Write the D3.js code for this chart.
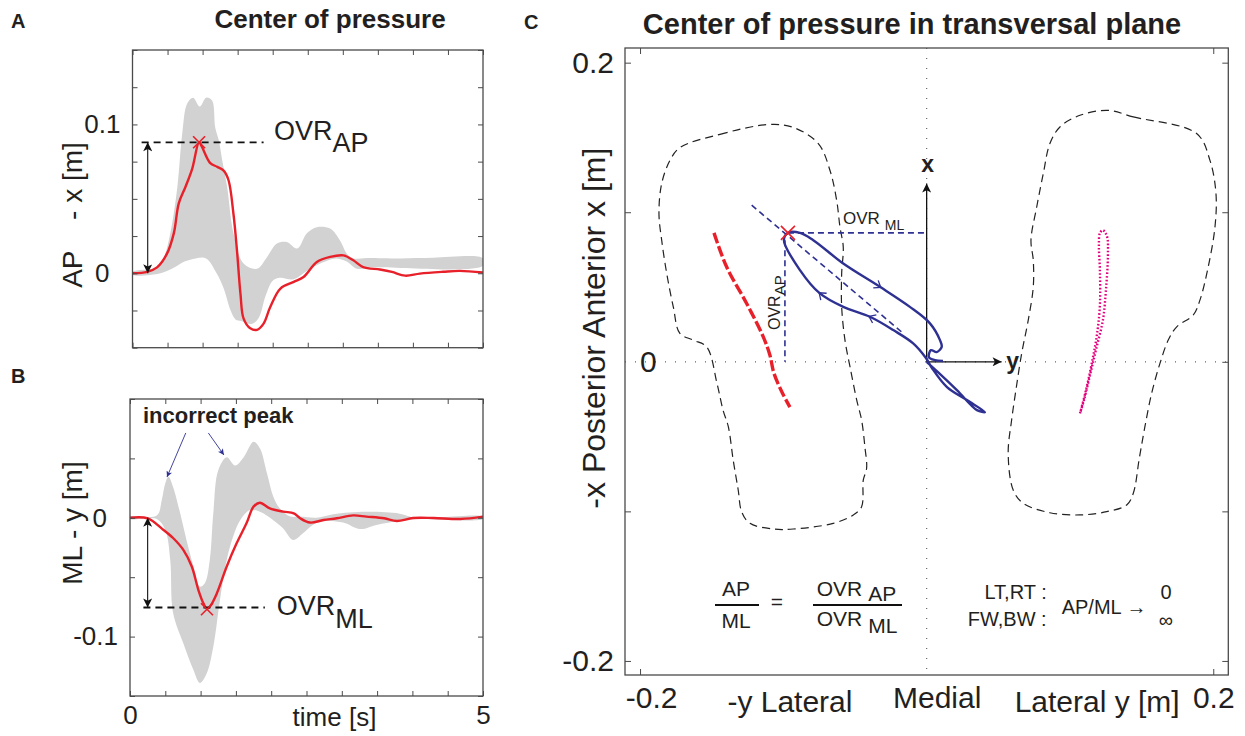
<!DOCTYPE html>
<html><head><meta charset="utf-8">
<script src="https://cdn.jsdelivr.net/npm/d3@7"></script>
<style>
html,body{margin:0;padding:0;background:#fff;}
svg{display:block;font-family:"Liberation Sans",Arial,Helvetica,sans-serif;}
</style></head><body>
<svg id="fig" width="1245" height="736"></svg>
<script>
// ---------------- DATA ----------------
const timeTicks = [0,0.5,1,1.5,2,2.5,3,3.5,4,4.5,5];
const timeLabels = [0,5];
const yTicksA = [-0.05,-0.025,0,0.025,0.05,0.075,0.1,0.125,0.15];
const yLabelsA = [0,0.1];
const yTicksB = [-0.15,-0.1,-0.05,0,0.05,0.1];
const yLabelsB = [0,-0.1];

// Panel A: AP centre of pressure (red) and gray envelope
const tRedA = [0,0.21,0.35,0.49,0.59,0.66,0.755,0.85,0.95,0.99,1.11,1.21,1.30,1.37,1.44,1.49,1.54,1.585,1.68,1.775,1.87,1.965,2.11,2.30,2.44,2.63,2.82,3.01,3.15,3.29,3.53,3.70,3.89,4.10,4.43,4.67,5.0];
const redA  = [0,0.001,0.004,0.013,0.027,0.047,0.058,0.070,0.088,0.085,0.074,0.0715,0.069,0.0625,0.040,0.0155,-0.0137,-0.0305,-0.037,-0.038,-0.0338,-0.0227,-0.0103,-0.0058,-0.0025,0.0076,0.011,0.012,0.0087,0.0042,0.0025,0.0009,-0.0016,-0.0002,0.001,0.0016,0.0005];
const tUpA = [0,0.35,0.45,0.54,0.64,0.71,0.78,0.865,0.96,1.05,1.135,1.18,1.23,1.28,1.35,1.44,1.585,1.775,1.92,2.06,2.20,2.35,2.49,2.63,2.82,2.96,3.06,3.15,3.34,3.82,4.29,5.0];
const upA  = [0.001,0.004,0.011,0.027,0.058,0.094,0.114,0.118,0.112,0.118,0.116,0.098,0.0895,0.076,0.058,0.027,0.0065,0.003,0.011,0.020,0.021,0.0166,0.027,0.031,0.030,0.022,0.013,0.010,0.0103,0.010,0.0105,0.010];
const tLoA = [0,0.4,0.6,0.75,0.9,1.05,1.2,1.3,1.4,1.47,1.55,1.7,1.8,1.9,2.0,2.1,2.3,2.5,2.7,2.9,3.05,3.2,3.4,5.0];
const loA  = [-0.001,0.0,0.004,0.008,0.01,0.01,0.0,-0.01,-0.025,-0.031,-0.032,-0.034,-0.03,-0.015,-0.005,-0.003,-0.004,0.002,0.007,0.01,0.008,0.003,0.004,0.005];

// Panel B: ML centre of pressure (red) and gray envelope
const tRedB = [0,0.25,0.47,0.61,0.755,0.875,0.97,1.04,1.09,1.14,1.23,1.37,1.51,1.65,1.75,1.84,1.98,2.17,2.32,2.41,2.55,2.74,2.93,3.16,3.35,3.6,3.78,4.01,4.3,4.68,5.0];
const redB  = [0,-0.0005,-0.010,-0.017,-0.027,-0.041,-0.061,-0.072,-0.0765,-0.074,-0.0636,-0.041,-0.0215,-0.0046,0.0094,0.0127,0.008,0.0052,0.0038,-0.0004,-0.004,-0.0019,-0.0004,0.002,0.001,-0.0004,-0.0027,-0.0002,-0.0002,-0.001,0.001];
const tUpB = [0,0.38,0.45,0.5,0.545,0.61,0.71,0.80,0.90,0.99,1.06,1.13,1.18,1.25,1.37,1.49,1.61,1.75,1.84,1.94,2.03,2.12,2.27,2.41,2.64,2.88,3.35,3.82,4.05,5.0];
const upB  = [0.001,0.002,0.015,0.029,0.0346,0.026,0.004,-0.0187,-0.041,-0.058,-0.055,-0.0355,0.0038,0.040,0.051,0.044,0.051,0.064,0.0585,0.0375,0.0178,0.008,0.001,0.001,0.0,0.003,0.005,0.0035,0.0,0.001];
const tLoB = [0,0.378,0.5,0.57,0.61,0.755,0.897,0.99,1.086,1.18,1.275,1.37,1.46,1.56,1.70,1.84,2.03,2.17,2.31,2.45,2.59,2.74,3.02,3.26,3.49,3.82,4.05,5.0];
const loB  = [-0.001,-0.001,-0.0103,-0.0355,-0.080,-0.1057,-0.128,-0.139,-0.131,-0.1085,-0.069,-0.0355,-0.016,-0.002,0.0066,0.005,-0.002,-0.009,-0.0187,-0.013,-0.006,-0.003,-0.004,-0.0095,-0.006,-0.0025,-0.001,-0.001];

// Overshoot values
const ovrAP = {t:0.95, v:0.088};
const ovrML = {t:1.09, v:-0.077};

// Panel C: [ML (y), AP (x)] in metres
const leftFoot = [[-0.1722,0.1432],[-0.1442,0.1521],[-0.1105,0.1586],[-0.0933,0.1568],[-0.0756,0.1459],[-0.0675,0.1281],[-0.0628,0.1080],[-0.0605,0.0902],[-0.0582,0.0768],[-0.0593,0.0591],[-0.0593,0.0367],[-0.0570,0.0145],[-0.0535,-0.0033],[-0.0488,-0.0256],[-0.0454,-0.0389],[-0.0431,-0.0568],[-0.0419,-0.0712],[-0.0442,-0.0790],[-0.0454,-0.0969],[-0.0512,-0.1024],[-0.0652,-0.1080],[-0.0931,-0.1118],[-0.1070,-0.1118],[-0.1233,-0.1080],[-0.1291,-0.1002],[-0.1315,-0.0857],[-0.1350,-0.0657],[-0.1384,-0.0434],[-0.1421,-0.0323],[-0.1463,-0.0144],[-0.1535,0.0100],[-0.1629,0.0145],[-0.1722,0.0190],[-0.1768,0.0367],[-0.1814,0.0591],[-0.1849,0.0813],[-0.1868,0.0991],[-0.1849,0.1192],[-0.1791,0.1347]];
const rightFoot = [[0.1267,0.1681],[0.1442,0.1637],[0.1884,0.1526],[0.1977,0.1347],[0.2019,0.1125],[0.2012,0.0902],[0.1965,0.0635],[0.1907,0.0412],[0.1860,0.0312],[0.1745,0.0234],[0.1686,0.0145],[0.1628,-0.0011],[0.1570,-0.0211],[0.1523,-0.0434],[0.1484,-0.0645],[0.1442,-0.0879],[0.1396,-0.0957],[0.1256,-0.1002],[0.1070,-0.1024],[0.0860,-0.1009],[0.0674,-0.0946],[0.0604,-0.0857],[0.0569,-0.0612],[0.0593,-0.0389],[0.0623,-0.0189],[0.0663,0.0056],[0.0709,0.0279],[0.0744,0.0501],[0.0744,0.0679],[0.0728,0.0813],[0.0768,0.1035],[0.0814,0.1259],[0.0860,0.1459],[0.0930,0.1570],[0.1070,0.1648]];
const redTraj = [[-0.1484,0.0862],[-0.1396,0.0635],[-0.1256,0.0390],[-0.1140,0.0167],[-0.1094,0.0045],[-0.1066,-0.0075],[-0.1010,-0.0202],[-0.0954,-0.0303]];
const magentaTraj = [[0.1070,-0.0345],[0.1112,-0.0189],[0.1154,-0.0002],[0.1188,0.0178],[0.1209,0.0379],[0.1209,0.0613],[0.1202,0.0780],[0.1209,0.0860],[0.1230,0.0880],[0.1258,0.0840],[0.1265,0.0713],[0.1251,0.0479],[0.1230,0.0279],[0.1181,0.0078],[0.1140,-0.0089],[0.1098,-0.0256],[0.1070,-0.0345]];
const blueTraj = [[0,0],[0.0079,-0.0069],[0.0211,-0.0189],[0.0351,-0.0323],[0.0407,-0.0336],[0.0281,-0.0256],[0.0142,-0.0169],[0.0037,-0.0042],[-0.0005,0.0025],[-0.0094,0.0123],[-0.0233,0.0212],[-0.0396,0.0301],[-0.0582,0.0367],[-0.0745,0.0457],[-0.0884,0.0613],[-0.0996,0.0813],[-0.0968,0.0862],[-0.0884,0.0862],[-0.0791,0.0813],[-0.0582,0.0657],[-0.0326,0.0501],[-0.0117,0.0367],[0.0023,0.0257],[0.0093,0.0145],[0.0105,0.0100],[0.0070,0.0065],[0.0030,0.0078],[0.0016,0.0031],[0.0058,0.0011],[0.0114,0.0005]];
const blueArrowIdx = [11,13,20];
const peakC = [-0.0968,0.0862];
const diagC = [[-0.1221,0.1047],[-0.0163,0.0190]];
const yTicksC = [-0.2,-0.1,0,0.1,0.2];
const xTicksC = [-0.2,0,0.2];

// ---------------- STYLE ----------------
const TXT="#231f20", BOX="#4a4a4a", GRAY="#d2d2d2", RED="#e8202a", NAVY="#2e3192", MAG="#e6007e";
const fmt1 = d => d3.format(".1f")(d).replace("\u2212","-");
const svg = d3.select("#fig");
const defs = svg.append("defs");
function marker(id, color, w, h){
  defs.append("marker").attr("id",id).attr("viewBox","0 0 10 10").attr("refX",10).attr("refY",5)
    .attr("markerWidth",w).attr("markerHeight",h).attr("markerUnits","userSpaceOnUse")
    .attr("orient","auto-start-reverse")
    .append("path").attr("d","M0,0 L10,5 L0,10 L2.5,5 Z").attr("fill",color);
}
marker("ahBlack","#111",10,9);
marker("ahNavy",NAVY,7,6);
marker("ahAxis","#111",12,9);

function styleAxis(g, fs){
  g.attr("font-family",null).attr("font-size",fs);
  g.select(".domain").remove();
  g.selectAll(".tick line").attr("stroke",BOX).attr("stroke-width",1);
  g.selectAll(".tick text").attr("fill",TXT);
  return g;
}
const near = (arr,d)=>arr.some(v=>Math.abs(v-d)<1e-9);
const xMark = (g,x,y,s,color,w)=>g.append("path")
  .attr("d",`M${x-s},${y-s}L${x+s},${y+s}M${x-s},${y+s}L${x+s},${y-s}`)
  .attr("stroke",color).attr("stroke-width",w).attr("fill","none");

function bandPath(x,y,tU,u,tL,l){
  const pts = tU.map((t,i)=>[x(t),y(u[i])]).concat(tL.map((t,i)=>[x(t),y(l[i])]).reverse());
  return d3.line().curve(d3.curveCatmullRomClosed.alpha(0.5))(pts);
}

function timePanel(cfg){
  const {box, yDom, yTicks, yLabels, tU,u,tL,l, tR,r, showX} = cfg;
  const x = d3.scaleLinear().domain([0,5]).range([box.l,box.r]);
  const y = d3.scaleLinear().domain(yDom).range([box.b,box.t]);
  const g = svg.append("g");
  const cid = "clip"+cfg.id;
  defs.append("clipPath").attr("id",cid).append("rect")
    .attr("x",box.l).attr("y",box.t).attr("width",box.r-box.l).attr("height",box.b-box.t);
  const inner = g.append("g").attr("clip-path",`url(#${cid})`);
  inner.append("path").attr("d",bandPath(x,y,tU,u,tL,l)).attr("fill",GRAY).attr("stroke","none");
  inner.append("path").datum(tR.map((t,i)=>[t,r[i]]))
    .attr("d",d3.line().x(d=>x(d[0])).y(d=>y(d[1])).curve(d3.curveCatmullRom.alpha(0.5)))
    .attr("fill","none").attr("stroke",RED).attr("stroke-width",2.4).attr("stroke-linejoin","round");
  // axes
  styleAxis(g.append("g").attr("transform",`translate(0,${box.b})`)
    .call(d3.axisBottom(x).tickValues(timeTicks).tickSize(-5).tickPadding(10)
      .tickFormat(d=> showX && near(timeLabels,d) ? d3.format("d")(d) : "")), 26);
  styleAxis(g.append("g").attr("transform",`translate(0,${box.t})`)
    .call(d3.axisTop(x).tickValues(timeTicks).tickSize(-5).tickFormat("")), 26);
  const ya = styleAxis(g.append("g").attr("transform",`translate(${box.l},0)`)
    .call(d3.axisLeft(y).tickValues(yTicks).tickSize(-5).tickPadding(12)
      .tickFormat(d=> near(yLabels,d) ? (Math.abs(d)<1e-9 ? "0" : fmt1(d)) : "")), 26);
  ya.selectAll(".tick text").filter(d=>Math.abs(d)<1e-9).attr("x",-23);
  styleAxis(g.append("g").attr("transform",`translate(${box.r},0)`)
    .call(d3.axisRight(y).tickValues(yTicks).tickSize(-5).tickFormat("")), 26);
  g.append("rect").attr("x",box.l).attr("y",box.t).attr("width",box.r-box.l).attr("height",box.b-box.t)
    .attr("fill","none").attr("stroke",BOX).attr("stroke-width",1.3);
  return {g,x,y};
}

// ---------------- PANEL A ----------------
const PA = timePanel({id:"A", box:{l:132.5,r:483,t:50,b:347.7}, yDom:[-0.05,0.15], yTicks:yTicksA, yLabels:yLabelsA,
  tU:tUpA,u:upA,tL:tLoA,l:loA,tR:tRedA,r:redA, showX:false});
{
  const {g,x,y} = PA;
  g.append("line").attr("x1",x(0.13)).attr("x2",x(1.87)).attr("y1",y(ovrAP.v)).attr("y2",y(ovrAP.v))
    .attr("stroke","#111").attr("stroke-width",1.8).attr("stroke-dasharray","7,5");
  g.append("line").attr("x1",x(0.217)).attr("x2",x(0.217)).attr("y1",y(0)).attr("y2",y(ovrAP.v))
    .attr("stroke","#111").attr("stroke-width",1.1)
    .attr("marker-start","url(#ahBlack)").attr("marker-end","url(#ahBlack)");
  xMark(g,x(ovrAP.t),y(ovrAP.v),6,RED,1.6);
  const t = g.append("text").attr("x",274).attr("y",139.5).attr("font-size",27).attr("fill",TXT);
  t.append("tspan").text("OVR"); t.append("tspan").attr("dy",12).text("AP");
  g.append("text").attr("transform","translate(81.5,215) rotate(-90)").attr("text-anchor","middle")
    .attr("font-size",28).attr("fill",TXT).style("white-space","pre").text("AP    - x [m]");
}

// ---------------- PANEL B ----------------
const PB = timePanel({id:"B", box:{l:130,r:483,t:399,b:696}, yDom:[-0.15,0.1], yTicks:yTicksB, yLabels:yLabelsB,
  tU:tUpB,u:upB,tL:tLoB,l:loB,tR:tRedB,r:redB, showX:true});
{
  const {g,x,y} = PB;
  g.append("line").attr("x1",x(0.19)).attr("x2",x(1.91)).attr("y1",y(-0.0755)).attr("y2",y(-0.0755))
    .attr("stroke","#111").attr("stroke-width",1.8).attr("stroke-dasharray","7,5");
  g.append("line").attr("x1",x(0.25)).attr("x2",x(0.25)).attr("y1",y(0)).attr("y2",y(-0.0755))
    .attr("stroke","#111").attr("stroke-width",1.1)
    .attr("marker-start","url(#ahBlack)").attr("marker-end","url(#ahBlack)");
  xMark(g,x(ovrML.t),y(ovrML.v),6,RED,1.6);
  const t = g.append("text").attr("x",276.7).attr("y",615).attr("font-size",27).attr("fill",TXT);
  t.append("tspan").text("OVR"); t.append("tspan").attr("dy",13).text("ML");
  g.append("text").attr("transform","translate(81.5,523) rotate(-90)").attr("text-anchor","middle")
    .attr("font-size",28).attr("fill",TXT).text("ML - y [m]");
  g.append("text").attr("x",143).attr("y",423).attr("font-size",22).attr("font-weight","bold")
    .attr("fill",TXT).text("incorrect peak");
  g.append("line").attr("x1",x(0.79)).attr("y1",y(0.0714)).attr("x2",x(0.524)).attr("y2",y(0.0343))
    .attr("stroke",NAVY).attr("stroke-width",0.9).attr("marker-end","url(#ahNavy)");
  g.append("line").attr("x1",x(1.11)).attr("y1",y(0.0714)).attr("x2",x(1.33)).attr("y2",y(0.0529))
    .attr("stroke",NAVY).attr("stroke-width",0.9).attr("marker-end","url(#ahNavy)");
  g.append("text").attr("x",(x(0)+x(5))/2+28).attr("y",726).attr("text-anchor","middle")
    .attr("font-size",26).attr("fill",TXT).text("time [s]");
}

// titles / panel letters
svg.append("text").attr("x",330).attr("y",28).attr("text-anchor","middle").attr("font-size",26)
  .attr("font-weight","bold").attr("fill",TXT).text("Center of pressure");
svg.append("text").attr("x",912).attr("y",34).attr("text-anchor","middle").attr("font-size",29)
  .attr("font-weight","bold").attr("fill",TXT).text("Center of pressure in transversal plane");
[["A",11,28],["B",11,383],["C",524,29]].forEach(([s,x,y])=>
  svg.append("text").attr("x",x).attr("y",y).attr("font-size",20).attr("font-weight","bold").attr("fill",TXT).text(s));

// ---------------- PANEL C ----------------
{
  const box = {l:625,r:1228.3,t:48,b:675};
  const x = d3.scaleLinear().domain([-0.2105,0.2105]).range([box.l,box.r]);
  const y = d3.scaleLinear().domain([-0.2094,0.2098]).range([box.b,box.t]);
  const g = svg.append("g");
  const line = d3.line().x(d=>x(d[0])).y(d=>y(d[1]));
  // dotted zero lines
  g.append("line").attr("x1",x(0)).attr("x2",x(0)).attr("y1",box.t).attr("y2",box.b)
    .attr("stroke","#666").attr("stroke-width",1.2).attr("stroke-dasharray","1,9");
  g.append("line").attr("x1",box.l).attr("x2",box.r).attr("y1",y(0)).attr("y2",y(0))
    .attr("stroke","#666").attr("stroke-width",1.2).attr("stroke-dasharray","1,9");
  // feet outlines
  [leftFoot,rightFoot].forEach(f=>g.append("path").datum(f)
    .attr("d",line.curve(d3.curveCatmullRomClosed.alpha(0.5)))
    .attr("fill","none").attr("stroke","#222").attr("stroke-width",1.2).attr("stroke-dasharray","8,5"));
  // red (left foot) trajectory
  g.append("path").datum(redTraj).attr("d",line.curve(d3.curveCatmullRom.alpha(0.5)))
    .attr("fill","none").attr("stroke",RED).attr("stroke-width",3.4).attr("stroke-dasharray","11,3");
  // magenta dotted trajectory
  g.append("path").datum(magentaTraj).attr("d",line.curve(d3.curveCatmullRom.alpha(0.5)))
    .attr("fill","none").attr("stroke",MAG).attr("stroke-width",2.4).attr("stroke-dasharray","1.6,2");
  // axis arrows
  g.append("line").attr("x1",x(0)).attr("y1",y(0)).attr("x2",x(0)).attr("y2",y(0.1192))
    .attr("stroke","#111").attr("stroke-width",1.3).attr("marker-end","url(#ahAxis)");
  g.append("line").attr("x1",x(0)).attr("y1",y(0)).attr("x2",x(0.0523)).attr("y2",y(0))
    .attr("stroke","#111").attr("stroke-width",1.3).attr("marker-end","url(#ahAxis)");
  g.append("text").attr("x",x(0)+1).attr("y",y(0.1192)-12).attr("text-anchor","middle")
    .attr("font-size",23).attr("font-weight","bold").attr("fill",TXT).text("x");
  g.append("text").attr("x",x(0.0523)+11).attr("y",y(0)+7).attr("text-anchor","middle")
    .attr("font-size",23).attr("font-weight","bold").attr("fill",TXT).text("y");
  // blue dashed construction lines
  const dash = sel=>sel.attr("stroke",NAVY).attr("stroke-width",1.6).attr("stroke-dasharray","6,4").attr("fill","none");
  dash(g.append("path").datum(diagC).attr("d",line.curve(d3.curveLinear)));
  dash(g.append("line").attr("x1",x(peakC[0])).attr("x2",x(0)).attr("y1",y(peakC[1])).attr("y2",y(peakC[1])));
  dash(g.append("line").attr("x1",x(-0.0989)).attr("x2",x(-0.0989)).attr("y1",y(0.0813)).attr("y2",y(0)));
  // blue trajectory
  g.append("path").datum(blueTraj).attr("d",line.curve(d3.curveCatmullRom.alpha(0.5)))
    .attr("fill","none").attr("stroke",NAVY).attr("stroke-width",2.4).attr("stroke-linejoin","round");
  blueArrowIdx.forEach(i=>{
    const p=blueTraj[i], a=blueTraj[i-1], b=blueTraj[i+1];
    const ang = Math.atan2(y(b[1])-y(a[1]), x(b[0])-x(a[0]))*180/Math.PI;
    g.append("path").attr("d","M-5,-4.5L1,0L-5,4.5")
      .attr("transform",`translate(${x(p[0])},${y(p[1])}) rotate(${ang})`)
      .attr("fill","none").attr("stroke",NAVY).attr("stroke-width",1.3);
  });
  xMark(g,x(peakC[0]),y(peakC[1]),7,RED,1.6);
  // OVR labels
  const tm = g.append("text").attr("x",843).attr("y",224).attr("font-size",17).attr("fill",TXT);
  tm.append("tspan").text("OVR"); tm.append("tspan").attr("dx",5).attr("dy",6).attr("font-size",14).text("ML");
  const ta = g.append("text").attr("transform","translate(780,330) rotate(-90)").attr("font-size",16).attr("fill",TXT);
  ta.append("tspan").text("OVR"); ta.append("tspan").attr("dy",5).attr("font-size",15).text("AP");
  // formula
  const f = (xx,yy,s,anchor)=>g.append("text").attr("x",xx).attr("y",yy).attr("font-size",21)
    .attr("text-anchor",anchor||"start").attr("fill",TXT).text(s);
  f(736,595.5,"AP","middle"); f(736,627.5,"ML","middle");
  g.append("line").attr("x1",715).attr("x2",759).attr("y1",605).attr("y2",605).attr("stroke","#111").attr("stroke-width",2.2);
  f(777,609,"=","middle");
  const n1 = f(816.7,595.5,""); n1.append("tspan").text("OVR"); n1.append("tspan").attr("dx",6).attr("dy",5).text("AP");
  const d1 = f(816.7,625.5,""); d1.append("tspan").text("OVR"); d1.append("tspan").attr("dx",6).attr("dy",7).text("ML");
  g.append("line").attr("x1",813).attr("x2",902).attr("y1",605).attr("y2",605).attr("stroke","#111").attr("stroke-width",2.2);
  const fr = (xx,yy,s,anchor)=>g.append("text").attr("x",xx).attr("y",yy).attr("font-size",20)
    .attr("text-anchor",anchor||"start").attr("fill",TXT).text(s);
  fr(1046.7,599,"LT,RT :","end"); fr(1046.7,626,"FW,BW :","end");
  fr(1061.7,613.5,"AP/ML \u2192"); fr(1166,599,"0","middle"); fr(1166,627,"\u221E","middle");
  // axes
  styleAxis(g.append("g").attr("transform",`translate(0,${box.b})`)
    .call(d3.axisBottom(x).tickValues(xTicksC).tickSize(-6).tickPadding(12)
      .tickFormat(d=> Math.abs(d)<1e-9 ? "Medial" : fmt1(d))), 30)
    .selectAll(".tick text").attr("dx",d=> d<-0.1 ? 11 : (Math.abs(d)<1e-9 ? 10 : 0));
  g.selectAll(".tick line").filter(d=>Math.abs(d)<1e-9).attr("stroke","none");
  styleAxis(g.append("g").attr("transform",`translate(0,${box.t})`)
    .call(d3.axisTop(x).tickValues([-0.2,0.2]).tickSize(-6).tickFormat("")), 30);
  const ly = styleAxis(g.append("g").attr("transform",`translate(${box.l},0)`)
    .call(d3.axisLeft(y).tickValues(yTicksC).tickSize(-6).tickPadding(11)
      .tickFormat(d=> Math.abs(d)<1e-9 ? "0" : (Math.abs(Math.abs(d)-0.2)<1e-9 ? fmt1(d) : ""))), 30);
  ly.selectAll(".tick text").filter(d=>Math.abs(d)<1e-9).attr("x",15).attr("text-anchor","start");
  ly.selectAll(".tick line").filter(d=>Math.abs(d)<1e-9).attr("stroke","none");
  styleAxis(g.append("g").attr("transform",`translate(${box.r},0)`)
    .call(d3.axisRight(y).tickValues(yTicksC).tickSize(-6).tickFormat("")), 30);
  g.append("text").attr("x",x(-0.0954)).attr("y",box.b+37).attr("text-anchor","middle")
    .attr("font-size",30).attr("fill",TXT).text("-y Lateral");
  g.append("text").attr("x",x(0.119)).attr("y",box.b+37).attr("text-anchor","middle")
    .attr("font-size",30).attr("fill",TXT).text("Lateral y [m]");
  g.append("text").attr("transform",`translate(605,${y(0.0225)}) rotate(-90)`).attr("text-anchor","middle")
    .attr("font-size",32).attr("fill",TXT).text("-x Posterior Anterior x [m]");
  g.append("rect").attr("x",box.l).attr("y",box.t).attr("width",box.r-box.l).attr("height",box.b-box.t)
    .attr("fill","none").attr("stroke",BOX).attr("stroke-width",1.3);
}
</script>
</body></html>
